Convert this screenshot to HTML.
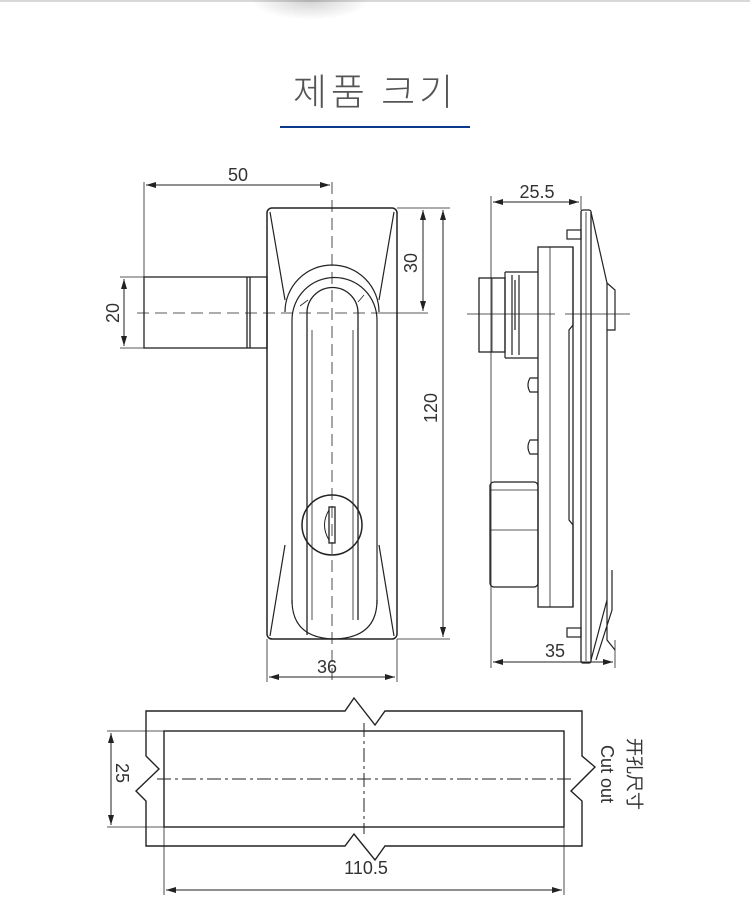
<!DOCTYPE html>
<html><head><meta charset="utf-8"><style>
html,body{margin:0;padding:0;background:#fff;}
body{width:750px;height:920px;overflow:hidden;position:relative;font-family:"Liberation Sans",sans-serif;}
.top{position:absolute;left:0;top:0;width:750px;height:2px;background:#d8d8d8;}
.shade{position:absolute;left:250px;top:-20px;width:120px;height:40px;border-radius:50%;background:radial-gradient(ellipse at center,rgba(0,0,0,0.18),rgba(0,0,0,0) 70%);}
.title{position:absolute;left:0;width:750px;top:62px;text-align:center;font-family:"Noto Sans CJK KR","NanumGothic",sans-serif;font-weight:300;font-size:37px;color:#555;letter-spacing:4px;}
.ul{position:absolute;left:280px;top:126px;width:190px;height:2px;background:#0b3a8c;}
</style></head><body>
<div class="top"></div><div class="shade"></div>
<div class="title">제품 크기</div>
<div class="ul"></div>
<svg width="750" height="920" style="position:absolute;left:0;top:0" xmlns="http://www.w3.org/2000/svg">
<defs>
<marker id="a" viewBox="0 0 10 6" refX="10" refY="3" markerWidth="10" markerHeight="6" orient="auto-start-reverse" markerUnits="userSpaceOnUse"><path d="M0,0L10,3L0,6z" fill="#222"/></marker>
</defs>
<g stroke="#222" fill="none" stroke-width="1">
<line x1="144" y1="182" x2="144" y2="348" stroke-width="0.8"/>
<line x1="146" y1="185" x2="330" y2="185" marker-start="url(#a)" marker-end="url(#a)"/>
<line x1="120" y1="277" x2="144" y2="277" stroke-width="0.8"/>
<line x1="120" y1="348" x2="144" y2="348" stroke-width="0.8"/>
<line x1="124" y1="279" x2="124" y2="346" marker-start="url(#a)" marker-end="url(#a)"/>
<line x1="397" y1="208" x2="450" y2="208" stroke-width="0.8"/>
<line x1="397" y1="639" x2="450" y2="639" stroke-width="0.8"/>
<line x1="380" y1="313" x2="428" y2="313" stroke-width="0.8"/>
<line x1="423" y1="210" x2="423" y2="311" marker-start="url(#a)" marker-end="url(#a)"/>
<line x1="443" y1="210" x2="443" y2="637" marker-start="url(#a)" marker-end="url(#a)"/>
<line x1="267" y1="639" x2="267" y2="682" stroke-width="0.8"/>
<line x1="397" y1="639" x2="397" y2="682" stroke-width="0.8"/>
<line x1="269" y1="677" x2="395" y2="677" marker-start="url(#a)" marker-end="url(#a)"/>
<rect x="144" y="277" width="123" height="71" stroke-width="1.3"/>
<line x1="247" y1="277" x2="247" y2="348" stroke-width="1.3"/>
<line x1="250" y1="277" x2="250" y2="348" stroke-width="1.3"/>
<rect x="267" y="208" width="130" height="431" rx="5" stroke-width="1.5"/>
<path d="M270 212 L285 300 M394 212 L379 300 M285 545 L270 636 M379 545 L394 636" stroke-width="1.2"/>
<path d="M285 312 A47 47 0 0 1 379 312" stroke-width="1.2"/>
<path d="M292 604 L292 320 M377 320 L377 604" stroke-width="1.2"/>
<path d="M292 320 A42.5 42.5 0 0 1 377 320" stroke-width="1.2"/>
<path d="M292 600 Q292 638 334 639 Q377 638 377 600" stroke-width="1.2"/>
<path d="M307 635 L307 313 A25 25 0 0 1 358 313 L358 620" stroke-width="1.3"/>
<path d="M312 620 L312 330 M353 620 L353 330" stroke-width="0.8"/>
<path d="M300 306 L308 300 M364 295 L358 302" stroke-width="0.8"/>
<circle cx="332" cy="525" r="30" stroke-width="1.5"/>
<rect x="329" y="507" width="6" height="36" stroke-width="1.3"/>
<path d="M329 510 Q320 525 329 540" stroke-width="1"/>
<line x1="137" y1="313" x2="380" y2="313" stroke-dasharray="12 6" stroke-width="0.8"/>
<line x1="332" y1="182" x2="332" y2="682" stroke-dasharray="12 6" stroke-width="0.8"/>
<line x1="491" y1="196" x2="491" y2="668" stroke-width="0.8"/>
<line x1="581" y1="196" x2="581" y2="210" stroke-width="0.8"/>
<line x1="615" y1="640" x2="615" y2="668" stroke-width="0.8"/>
<line x1="493" y1="202" x2="579" y2="202" marker-start="url(#a)" marker-end="url(#a)"/>
<line x1="493" y1="662" x2="613" y2="662" marker-start="url(#a)" marker-end="url(#a)"/>
<line x1="467" y1="314" x2="555" y2="314" stroke-width="0.8"/>
<line x1="565" y1="314" x2="630" y2="314" stroke-width="0.8"/>
<rect x="581" y="210" width="10" height="453" rx="2" stroke-width="1.3"/>
<line x1="586" y1="212" x2="586" y2="661" stroke-width="0.8"/>
<path d="M591 212 L607 283 L615 290 L615 330 L607 330 M607 283 L607 640 L615 650 M591 660 L607 600 M596 660 L612 610 L612 570" stroke-width="1.2"/>
<rect x="567" y="230" width="14" height="9" stroke-width="1.2"/>
<rect x="567" y="628" width="14" height="9" stroke-width="1.2"/>
<rect x="538" y="247" width="35" height="360" stroke-width="1.3"/>
<line x1="550" y1="247" x2="550" y2="607" stroke-width="0.8"/>
<path d="M573 247 L573 325 L569 330 L569 520 L573 525 L573 607" stroke-width="1.2"/>
<rect x="479" y="278" width="26" height="74" stroke-width="1.3"/>
<line x1="492" y1="278" x2="492" y2="352" stroke-width="0.8"/>
<path d="M505 272 L538 272 M505 358 L538 358 M505 272 L505 358 M512 275 L512 355 M515 280 L515 330 M519 275 L519 355" stroke-width="1.2"/>
<path d="M538 378 L530 378 Q526 385 530 392 L538 392 M538 440 L530 440 Q526 447 530 454 L538 454" stroke-width="1.2"/>
<rect x="490" y="482" width="48" height="105" rx="4" stroke-width="1.3"/>
<line x1="490" y1="490" x2="538" y2="490" stroke-width="0.8"/>
<line x1="490" y1="530" x2="538" y2="530" stroke-width="0.8"/>
<path d="M146 711 L345 711 L354 698 L375 725 L385 711 L582 711 L582 756 L595 767 L571 791 L582 801 L582 846 L385 846 L375 860 L354 834 L345 846 L146 846 L146 801 L136 791 L159 769 L146 756 Z" stroke-width="1.4"/>
<rect x="164" y="731" width="400" height="96" stroke-width="1.4"/>
<line x1="157" y1="779" x2="573" y2="779" stroke-dasharray="14 4 3 4" stroke-width="1"/>
<line x1="364" y1="723" x2="364" y2="834" stroke-dasharray="14 4 3 4" stroke-width="1"/>
<line x1="107" y1="731" x2="164" y2="731" stroke-width="0.8"/>
<line x1="107" y1="827" x2="164" y2="827" stroke-width="0.8"/>
<line x1="111" y1="733" x2="111" y2="825" marker-start="url(#a)" marker-end="url(#a)"/>
<line x1="164" y1="827" x2="164" y2="895" stroke-width="0.8"/>
<line x1="564" y1="827" x2="564" y2="895" stroke-width="0.8"/>
<line x1="166" y1="890" x2="562" y2="890" marker-start="url(#a)" marker-end="url(#a)"/>
</g>
<g font-family="Liberation Sans, sans-serif" font-size="18" fill="#333" text-anchor="middle">
<text x="238" y="181">50</text>
<text x="327" y="673">36</text>
<text x="537" y="198">25.5</text>
<text x="555" y="657">35</text>
<text x="366" y="874">110.5</text>
<text transform="translate(119,313) rotate(-90)">20</text>
<text transform="translate(417,263) rotate(-90)">30</text>
<text transform="translate(437,408) rotate(-90)">120</text>
<text transform="translate(116,773) rotate(90)">25</text>
<text transform="translate(601,774) rotate(90)">Cut out</text>
<text transform="translate(628,774) rotate(90)" font-family="Liberation Sans, Noto Sans CJK SC, sans-serif">开孔尺寸</text>
</g>
</svg>
</body></html>
